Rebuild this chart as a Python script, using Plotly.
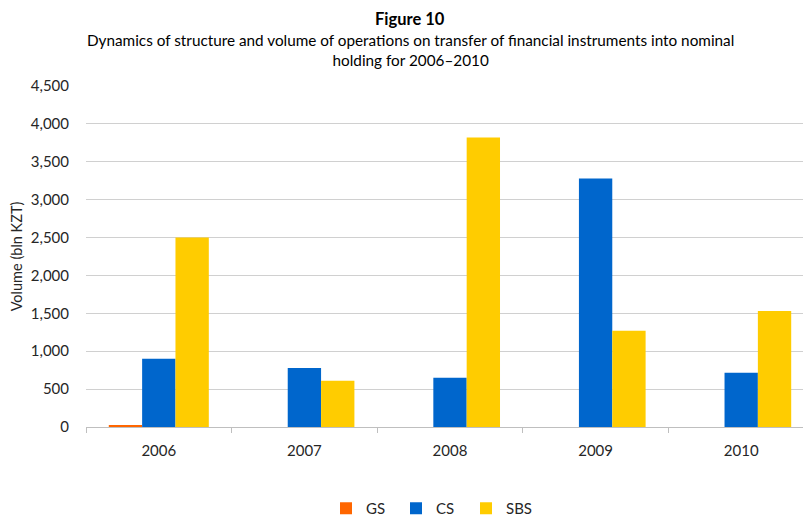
import plotly.graph_objects as go

years = ["2006", "2007", "2008", "2009", "2010"]
gs = [15, 0, 0, 0, 0]
cs = [900, 780, 650, 3280, 715]
sbs = [2500, 610, 3820, 1270, 1530]
y_ticks = [0, 500, 1000, 1500, 2000, 2500, 3000, 3500, 4000, 4500]

W, H = 803, 517
L, R, T, B = 86, 0, 85.5, 89.7
PH = H - T - B
FONT = "Lato"
TXT = "#262626"


def py(px):
    return (H - B - px) / PH


fig = go.Figure()
fig.add_bar(name="GS", x=years, y=gs, marker_color="#FF6600", marker_line_width=0)
fig.add_bar(name="CS", x=years, y=cs, marker_color="#0066CC", marker_line_width=0)
fig.add_bar(name="SBS", x=years, y=sbs, marker_color="#FFCC00", marker_line_width=0)

cat_px = 145.6
xmax = -0.5 + (W - L) / cat_px

fig.update_layout(
    width=W, height=H,
    margin=dict(l=L, r=R, t=T, b=B, autoexpand=False),
    paper_bgcolor="white", plot_bgcolor="white",
    barmode="group", bargap=0.313, bargroupgap=0,
    font=dict(family=FONT, size=14, color=TXT),
    showlegend=True,
    legend=dict(orientation="h", x=(431 - L) / (W - L), xanchor="center", y=py(509), yanchor="middle",
                font=dict(size=15, color=TXT), traceorder="normal",
                entrywidth=25, itemwidth=30),
    annotations=[
        dict(text="<b>Figure 10</b>", x=(410 - L) / (W - L), y=py(18), xref="paper", yref="paper",
             showarrow=False, font=dict(size=16.5, color="black"), xanchor="center", yanchor="middle"),
        dict(text="Dynamics of structure and volume of operations on transfer of financial instruments into nominal<br>holding for 2006\u20132010",
             x=(410 - L) / (W - L), y=py(49), xref="paper", yref="paper",
             showarrow=False, font=dict(size=15.3, color="black"), xanchor="center", yanchor="middle"),
    ],
)
fig.update_xaxes(
    type="category", range=[-0.5, xmax],
    showline=True, linecolor="#BFBFBF", linewidth=1,
    ticks="outside", tickson="boundaries", ticklen=5, tickcolor="#BFBFBF",
    ticklabelstandoff=10,
    showgrid=False, tickfont=dict(size=15, color=TXT),
)
fig.update_yaxes(
    range=[0, 4500], tickvals=y_ticks, tickformat=",d",
    showgrid=True, gridcolor="#D0D0D0", gridwidth=1, zeroline=False,
    showline=False, ticks="outside", ticklen=13, tickcolor="rgba(0,0,0,0)",
    tickfont=dict(size=15, color=TXT),
    title=dict(text="Volume (bln KZT)", font=dict(size=14.5, color=TXT), standoff=4),
)
fig.write_html("out.html")
